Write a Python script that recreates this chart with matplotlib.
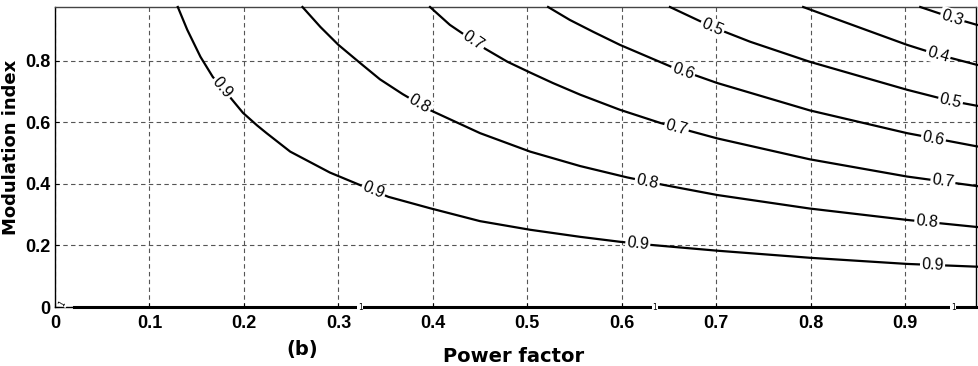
import numpy as np
import matplotlib
matplotlib.use('Agg')
from matplotlib.pyplot import *

# contour lines: power factor (x) and modulation index (y)
pf_09 = [0.130, 0.140, 0.154, 0.167, 0.185, 0.199, 0.214, 0.224, 0.249, 0.291, 0.320,
         0.353, 0.397, 0.450, 0.503, 0.556, 0.598, 0.630, 0.701, 0.799, 0.902, 0.976]
m_09 = [0.975, 0.901, 0.813, 0.748, 0.683, 0.631, 0.590, 0.565, 0.505, 0.437, 0.400,
        0.358, 0.321, 0.279, 0.251, 0.228, 0.212, 0.202, 0.183, 0.160, 0.140, 0.131]

pf_08 = [0.262, 0.281, 0.300, 0.323, 0.344, 0.368, 0.397, 0.450, 0.503, 0.556, 0.606,
         0.644, 0.701, 0.799, 0.902, 0.976]
m_08 = [0.975, 0.910, 0.852, 0.793, 0.740, 0.692, 0.640, 0.565, 0.505, 0.458, 0.421,
        0.397, 0.364, 0.320, 0.283, 0.260]

pf_07 = [0.397, 0.418, 0.455, 0.479, 0.503, 0.527, 0.556, 0.598, 0.641, 0.677, 0.701,
         0.799, 0.902, 0.976]
m_07 = [0.975, 0.917, 0.840, 0.797, 0.762, 0.728, 0.690, 0.641, 0.598, 0.568, 0.548,
        0.480, 0.424, 0.393]

pf_06 = [0.522, 0.545, 0.570, 0.598, 0.627, 0.653, 0.701, 0.799, 0.902, 0.976]
m_06 = [0.975, 0.933, 0.894, 0.852, 0.814, 0.780, 0.728, 0.639, 0.565, 0.522]

pf_05 = [0.651, 0.696, 0.736, 0.799, 0.902, 0.948, 0.976]
m_05 = [0.975, 0.910, 0.862, 0.797, 0.706, 0.670, 0.654]

pf_04 = [0.792, 0.902, 0.935, 0.976]
m_04 = [0.975, 0.852, 0.820, 0.787]

pf_03 = [0.916, 0.950, 0.976]
m_03 = [0.975, 0.940, 0.917]

pf_10 = [0.02, 0.976]
m_10 = [0.0, 0.0]

levels = ['0.9', '0.8', '0.7', '0.6', '0.5', '0.4', '0.3']
curves = [(pf_09, m_09), (pf_08, m_08), (pf_07, m_07), (pf_06, m_06),
          (pf_05, m_05), (pf_04, m_04), (pf_03, m_03)]

# where the inline labels sit along each curve (power factor)
label_at = [[0.177, 0.337, 0.617, 0.929],
            [0.386, 0.627, 0.923],
            [0.443, 0.658, 0.940],
            [0.665, 0.930],
            [0.696, 0.948],
            [0.935],
            [0.950]]
label_at_1 = [0.323, 0.635, 0.951]

xticks_v = [0, 0.1, 0.2, 0.3, 0.4, 0.5, 0.6, 0.7, 0.8, 0.9]
xtick_lbl = ['0', '0.1', '0.2', '0.3', '0.4', '0.5', '0.6', '0.7', '0.8', '0.9']
yticks_v = [0, 0.2, 0.4, 0.6, 0.8]
ytick_lbl = ['0', '0.2', '0.4', '0.6', '0.8']

W, H = 979, 366
fig = figure(figsize=(W / 100., H / 100.), dpi=100)
ax = fig.add_axes([55. / W, 1 - 307. / H, 921. / W, 300. / H])
ax.set_xlim(0, 0.975)
ax.set_ylim(0, 0.975)

ax.grid(True, linestyle=(0, (4, 3)), color='#555555', linewidth=0.8)
ax.set_axisbelow(True)

for (pf, m) in curves:
    ax.plot(pf, m, color='black', linewidth=1.6, zorder=3, clip_on=False)
ax.plot(pf_10, m_10, color='black', linewidth=2.2, zorder=3, clip_on=False)

lbl_font = dict(family=['Liberation Sans', 'DejaVu Sans'], size=11.5)
for lev, (pf, m), where in zip(levels, curves, label_at):
    for p in where:
        p0 = max(p - 0.01, pf[0])
        p1 = min(p + 0.01, pf[-1])
        a = ax.transData.transform((p0, np.interp(p0, pf, m)))
        b = ax.transData.transform((p1, np.interp(p1, pf, m)))
        ang = np.degrees(np.arctan2(b[1] - a[1], b[0] - a[0]))
        ax.text(p, np.interp(p, pf, m), lev, rotation=ang, rotation_mode='anchor',
                ha='center', va='center', fontdict=lbl_font, zorder=4,
                bbox=dict(facecolor='white', edgecolor='none', pad=1.0))

for p in label_at_1:
    ax.text(p, 0.0, '1', ha='center', va='center', fontsize=5.5, zorder=4,
            bbox=dict(facecolor='white', edgecolor='none', pad=0.5), clip_on=False)
ax.text(0.008, 0.012, '1', ha='center', va='center', fontsize=5.5, rotation=60, zorder=4,
        bbox=dict(facecolor='white', edgecolor='none', pad=0.3), clip_on=False)

tick_font = dict(family=['Liberation Sans', 'DejaVu Sans'], weight='bold', size=13)
ax.set_xticks(xticks_v)
ax.set_xticklabels(xtick_lbl, fontdict=tick_font)
ax.set_yticks(yticks_v)
ax.set_yticklabels(ytick_lbl, fontdict=tick_font)
ax.tick_params(direction='in', length=3, width=0.8, pad=6)
ax.tick_params(axis='y', pad=3)

for s in ax.spines.values():
    s.set_linewidth(1.0)
    s.set_color('black')
ax.spines['top'].set_color('#444444')

fig.text(514. / W, 1 - 356. / H, 'Power factor', ha='center', va='center',
         fontsize=14, fontweight='bold', family='DejaVu Sans')
fig.text(302. / W, 1 - 349. / H, '(b)', ha='center', va='center',
         fontsize=14, fontweight='bold', family='DejaVu Sans')
fig.text(11. / W, 1 - 147. / H, 'Modulation index', ha='center', va='center', rotation=90,
         fontsize=13, fontweight='bold', family='DejaVu Sans')

savefig('out.png', dpi=100)
